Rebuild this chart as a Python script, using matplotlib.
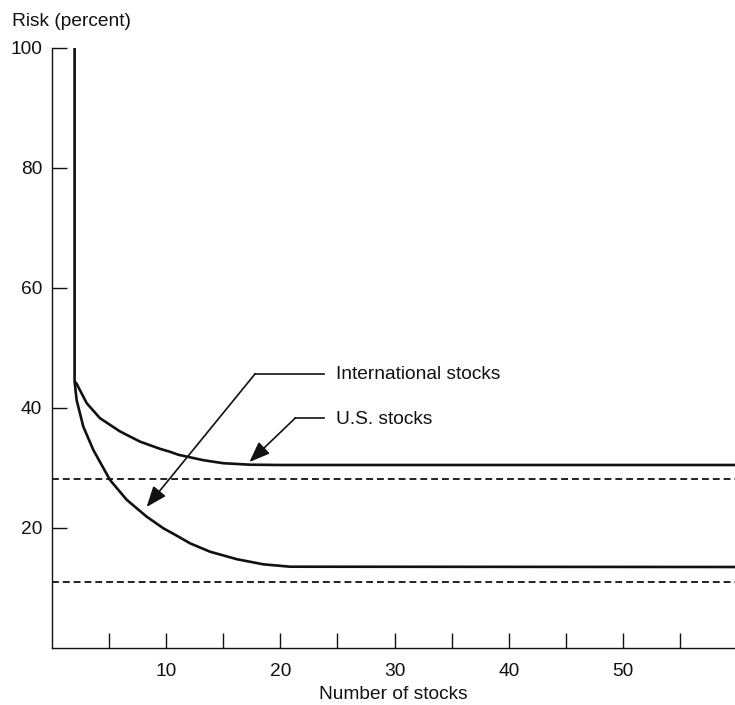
import matplotlib
matplotlib.use("Agg")
import matplotlib.pyplot as plt

plt.rcParams['font.family'] = ['Liberation Sans', 'DejaVu Sans']

# curves (number of stocks, risk %)
intl_x = [2.0, 2.0, 2.18, 2.76, 3.64, 5.1, 6.56, 8.3, 9.77, 11.1, 12.1, 13.85, 16.2, 18.5, 20.85, 59.8]
intl_y = [100, 44.4, 41.3, 36.9, 33.0, 28.0, 24.7, 21.9, 19.95, 18.55, 17.45, 16.05, 14.8, 13.95, 13.55, 13.5]

us_x = [2.0, 2.16, 3.06, 4.22, 5.97, 7.72, 9.47, 10.35, 11.1, 13.27, 15.0, 17.35, 20.0, 59.8]
us_y = [44.4, 44.1, 40.8, 38.3, 36.1, 34.4, 33.2, 32.7, 32.2, 31.3, 30.8, 30.55, 30.5, 30.5]

# asymptotes (dashed)
us_floor = 28.2
intl_floor = 11.0

# annotation paths: label pos, elbow, arrow tip
intl_label = (24.9, 45.6)
intl_elbow = (17.8, 45.7)
intl_tip = (8.3, 23.5)

us_label = (24.9, 38.1)
us_elbow = (21.3, 38.3)
us_tip = (17.3, 31.0)

x_ticks = [5, 10, 15, 20, 25, 30, 35, 40, 45, 50, 55]
x_tick_labels = ['', '10', '', '20', '', '30', '', '40', '', '50', '']
y_ticks = [20, 40, 60, 80, 100]

fig = plt.figure(figsize=(7.35, 7.05), dpi=100)
ax = fig.add_axes([51.75 / 735, 57 / 705, (735 - 51.75) / 735, 600 / 705])

ink = '#111111'

ax.plot(intl_x, intl_y, color=ink, lw=1.9, solid_capstyle='butt', solid_joinstyle='round')
ax.plot(us_x, us_y, color=ink, lw=1.9, solid_capstyle='butt', solid_joinstyle='round')

ax.axhline(us_floor, color=ink, lw=1.3, linestyle=(0, (3.8, 2.2)))
ax.axhline(intl_floor, color=ink, lw=1.3, linestyle=(0, (3.8, 2.2)))

# leader lines with arrows
for lab, elbow, tip, txt in [(intl_label, intl_elbow, intl_tip, 'International stocks'),
                             (us_label, us_elbow, us_tip, 'U.S. stocks')]:
    ax.plot([elbow[0], lab[0] - 1.1], [elbow[1], elbow[1]], color=ink, lw=1.2)
    ax.annotate('', xy=tip, xytext=elbow,
                arrowprops=dict(arrowstyle='-|>,head_length=0.9,head_width=0.35',
                                color=ink, lw=1.2, shrinkA=0, shrinkB=0,
                                mutation_scale=14))
    ax.text(lab[0], lab[1], txt, fontsize=13.8, va='center', ha='left', color=ink)

ax.set_xlim(0, 59.8)
ax.set_ylim(0, 100)

ax.spines['top'].set_visible(False)
ax.spines['right'].set_visible(False)
ax.spines['left'].set_linewidth(1.0)
ax.spines['bottom'].set_linewidth(1.0)
ax.spines['left'].set_color(ink)
ax.spines['bottom'].set_color(ink)

ax.set_xticks(x_ticks)
ax.set_xticklabels(x_tick_labels)
ax.set_yticks(y_ticks)
ax.set_yticklabels([str(v) for v in y_ticks])
ax.tick_params(axis='x', direction='in', length=10.5, width=1.0, pad=11, labelsize=13.8, colors=ink)
ax.tick_params(axis='y', direction='in', length=10.5, width=1.0, pad=7, labelsize=13.8, colors=ink)

ax.set_xlabel('Number of stocks', fontsize=13.8, labelpad=4, color=ink)
fig.text(12 / 735, 1 - 22 / 705, 'Risk (percent)', fontsize=13.8, va='center', ha='left', color=ink)

fig.savefig('out.png', dpi=100)
